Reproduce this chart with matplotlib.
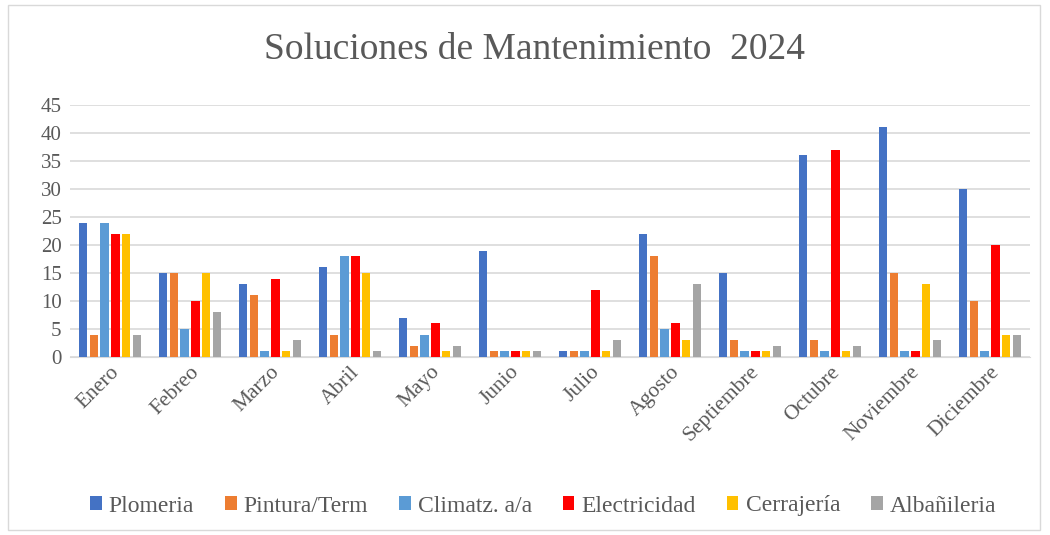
import matplotlib.pyplot as plt
import numpy as np
from matplotlib.patches import Rectangle

plt.rcParams['font.family'] = ['Liberation Serif', 'DejaVu Serif']

meses = ['Enero', 'Febreo', 'Marzo', 'Abril', 'Mayo', 'Junio', 'Julio',
         'Agosto', 'Septiembre', 'Octubre', 'Noviembre', 'Diciembre']

plomeria     = [24, 15, 13, 16, 7, 19, 1, 22, 15, 36, 41, 30]
pintura      = [4, 15, 11, 4, 2, 1, 1, 18, 3, 3, 15, 10]
climatz      = [24, 5, 1, 18, 4, 1, 1, 5, 1, 1, 1, 1]
electricidad = [22, 10, 14, 18, 6, 1, 12, 6, 1, 37, 1, 20]
cerrajeria   = [22, 15, 1, 15, 1, 1, 1, 3, 1, 1, 13, 4]
albanileria  = [4, 8, 3, 1, 2, 1, 3, 13, 2, 2, 3, 4]

series = [('Plomeria', plomeria, '#4472C4'),
          ('Pintura/Term', pintura, '#ED7D31'),
          ('Climatz. a/a', climatz, '#5B9BD5'),
          ('Electricidad', electricidad, '#FF0000'),
          ('Cerrajería', cerrajeria, '#FFC000'),
          ('Albañileria', albanileria, '#A5A5A5')]

fig = plt.figure(figsize=(10.5, 5.35), dpi=100)
ax = fig.add_axes([70/1050, 1-357/535, 960/1050, 252/535])

x = np.arange(len(meses))
step = 0.134
w = 0.105
for i, (nombre, vals, col) in enumerate(series):
    ax.bar(x + (i - 2.5) * step, vals, w, color=col, label=nombre, zorder=3)

ax.set_xlim(-0.5, len(meses) - 0.5)
ax.set_ylim(0, 45)
ax.set_yticks(range(0, 46, 5))
ax.yaxis.grid(True, color='#d9d9d9', linewidth=1.2, zorder=0)
ax.set_xticks(x)
ax.set_xticklabels(meses, rotation=45, ha='right', rotation_mode='anchor',
                   fontsize=15.5, color='#595959')
ax.tick_params(axis='y', labelsize=15, labelcolor='#595959', length=0, pad=6)
ax.tick_params(axis='x', length=0, pad=4)
for s in ['top', 'right', 'left']:
    ax.spines[s].set_visible(False)
ax.spines['bottom'].set_color('#d9d9d9')

fig.text(535/1050, 1-50/535, 'Soluciones de Mantenimiento  2024', ha='center',
         va='center', fontsize=27, color='#595959')

fig.legend(loc='center', bbox_to_anchor=(543/1050, 1-506/535), ncol=6, frameon=False,
           fontsize=17, labelcolor='#595959', handlelength=0.5, handleheight=0.5,
           handletextpad=0.3, columnspacing=1.3)

fig.patches.append(Rectangle((8/1050, 5/535), 1032/1050, 525/535,
                             transform=fig.transFigure, fill=False,
                             edgecolor='#d9d9d9', linewidth=1))

fig.savefig('out.png', dpi=100)
